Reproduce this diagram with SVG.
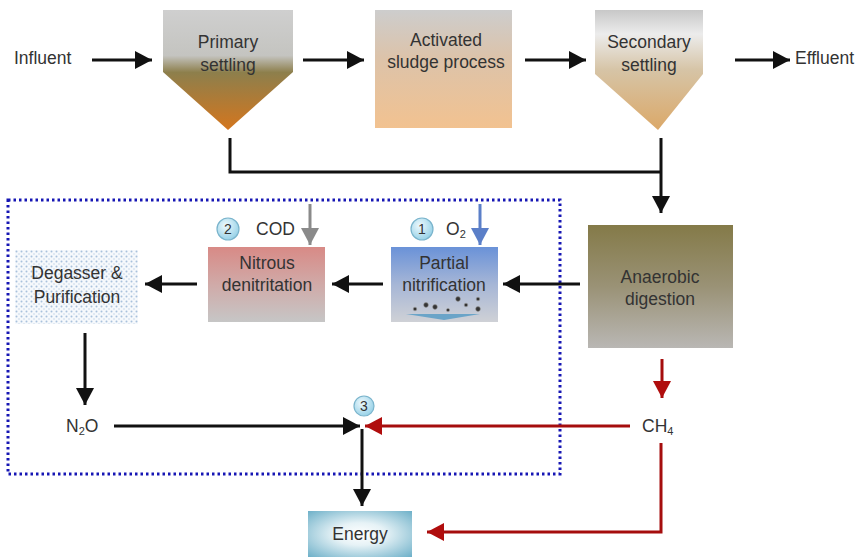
<svg xmlns="http://www.w3.org/2000/svg" width="860" height="557" viewBox="0 0 860 557">
<defs>
<style>
text{font-family:"Liberation Sans",Arial,sans-serif;font-size:17.5px;fill:#333;}
.c{text-anchor:middle;}
.blk{stroke:#111;stroke-width:3;fill:none;}
.red{stroke:#a50d0d;stroke-width:3;fill:none;}
.num{fill:url(#gNum);stroke:#7ab4cc;stroke-width:1.2;}
.numt{font-size:14px;text-anchor:middle;fill:#333;}
.sub{font-size:11px;}
</style>
<marker id="aBlk" markerUnits="userSpaceOnUse" markerWidth="18" markerHeight="18" refX="17" refY="9" orient="auto"><path d="M0,0 L17,9 L0,18 z" fill="#111"/></marker>
<marker id="aRed" markerUnits="userSpaceOnUse" markerWidth="18" markerHeight="18" refX="17" refY="9" orient="auto"><path d="M0,0 L17,9 L0,18 z" fill="#b00d0d"/></marker>
<marker id="aGray" markerUnits="userSpaceOnUse" markerWidth="18" markerHeight="18" refX="17" refY="9" orient="auto"><path d="M0,0 L17,9 L0,18 z" fill="#8a8a8a"/></marker>
<marker id="aBlue" markerUnits="userSpaceOnUse" markerWidth="18" markerHeight="18" refX="17" refY="9" orient="auto"><path d="M0,0 L17,9 L0,18 z" fill="#5b7fc8"/></marker>
<linearGradient id="gPrim" x1="0" y1="0" x2="0" y2="1"><stop offset="0" stop-color="#cfcfcf"/><stop offset="0.38" stop-color="#c4c4c0"/><stop offset="0.52" stop-color="#8d7f4c"/><stop offset="1" stop-color="#d4761e"/></linearGradient>
<linearGradient id="gAct" x1="0" y1="0" x2="0" y2="1"><stop offset="0" stop-color="#cdcdcd"/><stop offset="0.4" stop-color="#dcc3aa"/><stop offset="1" stop-color="#f2c290"/></linearGradient>
<linearGradient id="gSec" x1="0" y1="0" x2="0" y2="1"><stop offset="0" stop-color="#c8c8c8"/><stop offset="0.2" stop-color="#ececec"/><stop offset="0.5" stop-color="#d6c4a6"/><stop offset="1" stop-color="#dba868"/></linearGradient>
<linearGradient id="gAna" x1="0" y1="0" x2="0" y2="1"><stop offset="0" stop-color="#847a48"/><stop offset="0.5" stop-color="#9a9276"/><stop offset="1" stop-color="#b9b7b4"/></linearGradient>
<linearGradient id="gNit" x1="0" y1="0" x2="0" y2="1"><stop offset="0" stop-color="#d88a86"/><stop offset="0.5" stop-color="#d0aaa8"/><stop offset="1" stop-color="#c6c6c6"/></linearGradient>
<linearGradient id="gPar" x1="0" y1="0" x2="0" y2="1"><stop offset="0" stop-color="#6a92d8"/><stop offset="0.5" stop-color="#a6b6d6"/><stop offset="1" stop-color="#cfd1d6"/></linearGradient>
<radialGradient id="gEn" cx="0.5" cy="0.5" r="0.7"><stop offset="0" stop-color="#ffffff"/><stop offset="0.35" stop-color="#e6f2f6"/><stop offset="1" stop-color="#6fb1c9"/></radialGradient>
<radialGradient id="gNum" cx="0.4" cy="0.35" r="0.7"><stop offset="0" stop-color="#eef9fd"/><stop offset="1" stop-color="#92cfe6"/></radialGradient>
<pattern id="pDot" width="5" height="5" patternUnits="userSpaceOnUse"><rect width="5" height="5" fill="#f6f9fc"/><circle cx="1.5" cy="1.5" r="1" fill="#a9c2dc"/><circle cx="4" cy="4" r="0.8" fill="#c4d6e8"/></pattern>
</defs>
<rect width="860" height="557" fill="#ffffff"/>

<rect x="8" y="200" width="552" height="274" fill="none" stroke="#1616b4" stroke-width="3" stroke-dasharray="2.5 3"/>

<g id="influent"><text x="14" y="64">Influent</text></g>
<g id="primary"><path d="M163,10 H293 V72 L228,130 L163,72 Z" fill="url(#gPrim)"/><text class="c" x="228" y="48">Primary</text><text class="c" x="228" y="71">settling</text></g>
<g id="activated"><rect x="375" y="10" width="137" height="118" fill="url(#gAct)"/><text class="c" x="446" y="46">Activated</text><text class="c" x="446" y="68">sludge process</text></g>
<g id="secondary"><path d="M595,10 H703 V74 L658,130 L595,74 Z" fill="url(#gSec)"/><text class="c" x="649" y="48">Secondary</text><text class="c" x="649" y="71">settling</text></g>
<g id="effluent"><text x="795" y="64">Effluent</text></g>
<g id="anaerobic"><rect x="588" y="225" width="145" height="123" fill="url(#gAna)"/><text class="c" x="660" y="283">Anaerobic</text><text class="c" x="660" y="305">digestion</text></g>
<g id="partial"><rect x="391" y="247" width="107" height="75" fill="url(#gPar)"/><text class="c" x="444" y="269" fill="#2c3f66">Partial</text><text class="c" x="444" y="291">nitrification</text>
<path d="M406,314 L480,314 L444,320 Z" fill="#6aa4c8"/>
<g fill="#333" stroke="#999" stroke-width="0.6"><circle cx="415" cy="309" r="1.8"/><circle cx="426" cy="305" r="2.4"/><circle cx="435" cy="307" r="2.4"/><circle cx="448" cy="310" r="1.6"/><circle cx="458" cy="299" r="2.4"/><circle cx="466" cy="305" r="1.8"/><circle cx="478" cy="299" r="1.8"/><circle cx="478" cy="309" r="2.4"/></g></g>
<g id="nitrous"><rect x="208" y="247" width="117" height="75" fill="url(#gNit)"/><text class="c" x="267" y="269">Nitrous</text><text class="c" x="267" y="291">denitritation</text></g>
<g id="degasser"><rect x="15" y="250" width="123" height="74" fill="url(#pDot)"/><text class="c" x="77" y="279">Degasser &amp;</text><text class="c" x="77" y="303">Purification</text></g>
<g id="n2o"><text x="66" y="432">N<tspan class="sub" dy="3">2</tspan><tspan dy="-3">O</tspan></text></g>
<g id="ch4"><text x="642" y="432">CH<tspan class="sub" dy="3">4</tspan></text></g>
<g id="energy"><rect x="308" y="511" width="104" height="46" fill="url(#gEn)"/><text class="c" x="360" y="540">Energy</text></g>
<g id="markers">
<circle class="num" cx="422" cy="229" r="11"/><text class="numt" x="422" y="234">1</text>
<text x="446" y="235">O<tspan class="sub" dy="3">2</tspan></text>
<circle class="num" cx="228" cy="229" r="11"/><text class="numt" x="228" y="234">2</text>
<text x="256" y="235">COD</text>
<circle class="num" cx="364" cy="406" r="10"/><text class="numt" x="364" y="411">3</text>
</g>

<g id="connectors">
<line class="blk" x1="92" y1="60" x2="152" y2="60" marker-end="url(#aBlk)"/>
<line class="blk" x1="303" y1="60" x2="364" y2="60" marker-end="url(#aBlk)"/>
<line class="blk" x1="525" y1="60" x2="586" y2="60" marker-end="url(#aBlk)"/>
<line class="blk" x1="735" y1="60" x2="790" y2="60" marker-end="url(#aBlk)"/>
<path class="blk" d="M230,138 V172 H661"/>
<line class="blk" x1="661" y1="138" x2="661" y2="213" marker-end="url(#aBlk)"/>
<line class="blk" x1="580" y1="284" x2="503" y2="284" marker-end="url(#aBlk)"/>
<line class="blk" x1="383" y1="284" x2="332" y2="284" marker-end="url(#aBlk)"/>
<line class="blk" x1="197" y1="284" x2="145" y2="284" marker-end="url(#aBlk)"/>
<line stroke="#8a8a8a" stroke-width="3" x1="310" y1="204" x2="310" y2="245" marker-end="url(#aGray)"/>
<line stroke="#5b7fc8" stroke-width="3" x1="480" y1="204" x2="480" y2="245" marker-end="url(#aBlue)"/>
<line class="blk" x1="85" y1="333" x2="85" y2="405" marker-end="url(#aBlk)"/>
<line class="blk" x1="114" y1="426" x2="360" y2="426" marker-end="url(#aBlk)"/>
<line class="red" x1="630" y1="426" x2="365" y2="426" marker-end="url(#aRed)"/>
<line class="blk" x1="362" y1="429" x2="362" y2="506" marker-end="url(#aBlk)"/>
<line class="red" x1="662" y1="359" x2="662" y2="398" marker-end="url(#aRed)"/>
<path class="red" d="M661,443 V532 H427" marker-end="url(#aRed)"/>
</g>
</svg>
